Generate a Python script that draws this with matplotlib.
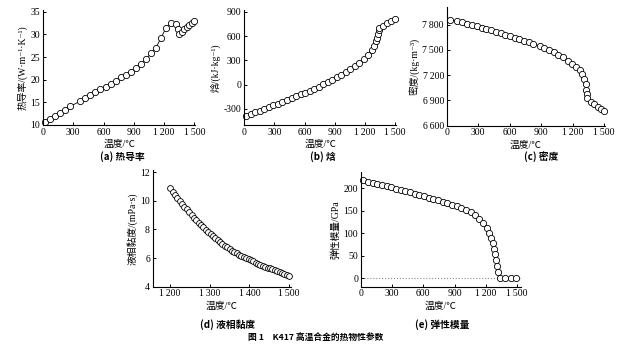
import matplotlib
matplotlib.use("Agg")
import matplotlib.pyplot as plt

FONT = ['Liberation Serif', 'Noto Sans CJK SC', 'DejaVu Serif']
CAPF = ['Noto Sans CJK SC', 'Liberation Serif', 'DejaVu Serif']
plt.rcParams['font.family'] = FONT
plt.rcParams['axes.unicode_minus'] = False

W, H = 622, 349

# ---- data ----
# (a) thermal conductivity
T_a = [20, 70, 120, 170, 220, 270, 370, 420, 470, 520, 570, 620, 670, 720, 770, 820,
       870, 920, 970, 1020, 1070, 1120, 1170, 1220, 1270, 1320, 1340, 1350, 1375,
       1400, 1425, 1450, 1475, 1500]
k_a = [10.7, 11.3, 12.0, 12.7, 13.4, 14.1, 15.3, 15.9, 16.6, 17.3, 17.9, 18.5, 19.1,
       19.8, 20.5, 21.1, 21.8, 22.6, 23.5, 24.6, 25.8, 27.1, 29.2, 31.5, 32.6, 32.4,
       31.3, 30.1, 30.6, 31.1, 31.6, 32.0, 32.5, 32.9]

# (b) enthalpy
T_b = [20, 65, 110, 155, 200, 245, 290, 335, 380, 425, 470, 515, 560, 605, 650, 695,
       740, 785, 830, 875, 920, 965, 1010, 1055, 1100, 1145, 1190, 1235, 1270, 1295,
       1315, 1325, 1332, 1337, 1340, 1380, 1420, 1460, 1500]
h_b = [-390, -365, -342, -321, -300, -277, -256, -235, -214, -191, -168, -145, -122,
       -98, -74, -50, -24, 2, 28, 57, 88, 120, 154, 190, 228, 270, 318, 372, 425, 475,
       535, 580, 630, 680, 700, 730, 760, 787, 813]

# (c) density
T_c = [32, 102, 146, 191, 238, 286, 334, 378, 426, 470, 515, 559, 604, 648, 693, 737,
       782, 823, 887, 931, 976, 1020, 1065, 1109, 1154, 1198, 1236, 1268, 1293, 1312,
       1325, 1331, 1338, 1341, 1373, 1408, 1443, 1472, 1500]
rho_c = [7860, 7844, 7828, 7812, 7796, 7780, 7764, 7748, 7732, 7717, 7697, 7681, 7661,
         7645, 7625, 7609, 7589, 7573, 7546, 7526, 7502, 7474, 7442, 7411, 7371, 7331,
         7295, 7260, 7212, 7156, 7093, 7025, 6973, 6925, 6886, 6858, 6826, 6799, 6775]

# (d) liquid viscosity
T_d = [1200, 1206, 1212, 1218, 1224, 1230, 1236, 1242, 1248, 1254, 1260, 1266, 1272,
       1278, 1284, 1290, 1296, 1302, 1308, 1314, 1320, 1326, 1332, 1338, 1344, 1350,
       1356, 1362, 1368, 1374, 1380, 1386, 1392, 1398, 1404, 1410, 1416, 1422, 1428,
       1434, 1440, 1446, 1452, 1458, 1464, 1470, 1476, 1482, 1488, 1494, 1500]
mu_d = [10.86, 10.64, 10.42, 10.21, 10.00, 9.80, 9.60, 9.40, 9.19, 9.01, 8.83, 8.65,
        8.48, 8.31, 8.14, 7.98, 7.82, 7.67, 7.52, 7.38, 7.24, 7.11, 6.98, 6.86, 6.74,
        6.62, 6.52, 6.42, 6.33, 6.24, 6.15, 6.07, 5.99, 5.90, 5.83, 5.76, 5.69, 5.62,
        5.55, 5.48, 5.41, 5.34, 5.28, 5.21, 5.15, 5.09, 5.03, 4.97, 4.91, 4.85, 4.76]

# (e) elastic modulus
T_e = [19, 67, 112, 157, 202, 247, 292, 337, 382, 427, 472, 517, 562, 607, 652, 697,
       742, 787, 832, 877, 922, 967, 1012, 1057, 1102, 1134, 1176, 1208, 1233, 1253,
       1269, 1282, 1291, 1301, 1311, 1320, 1336, 1385, 1440, 1495]
E_e = [217.8, 214.8, 212.6, 209.6, 207.4, 204.4, 202.2, 199.3, 196.3, 194.1, 191.1,
       188.1, 185.2, 182.2, 179.2, 176.3, 173.3, 170.4, 167.4, 163.7, 160.0, 156.3,
       151.8, 146.6, 140.7, 132.0, 123.0, 111.8, 100.7, 89.6, 78.5, 65.1, 54.0, 41.4,
       26.7, 13.3, 0, 0, 0, 0]

xt_full = [0, 300, 600, 900, 1200, 1500]
xt_full_lab = ['0', '300', '600', '900', '1\u2009200', '1\u2009500']
xt_d = [1200, 1300, 1400, 1500]
xt_d_lab = ['1\u2009200', '1\u2009300', '1\u2009400', '1\u2009500']


def px_axes(fig, left, right, top, bottom):
    return fig.add_axes([left / W, 1 - bottom / H, (right - left) / W, (bottom - top) / H])


def style(ax):
    for s in ['top', 'right']:
        ax.spines[s].set_visible(False)
    for s in ['left', 'bottom']:
        ax.spines[s].set_linewidth(0.8)
    ax.tick_params(direction='in', length=2.5, width=0.7, labelsize=7, pad=2)
    ax.set_xlabel('温度/℃', fontsize=7, labelpad=2)


def draw(ax, x, y, ms=4.5):
    ax.plot(x, y, color='black', lw=0.6, marker='o', ms=ms, mfc='white',
            mec='black', mew=0.6, clip_on=False)


fig = plt.figure(figsize=(W / 100, H / 100), dpi=100)

# (a)
ax = px_axes(fig, 43, 195.3, 10, 125)
draw(ax, T_a, k_a)
ax.set_xlim(0, 1510)
ax.set_ylim(10, 35.4)
ax.set_xticks(xt_full, xt_full_lab)
ax.set_yticks([10, 15, 20, 25, 30, 35])
style(ax)
ax.set_ylabel('热导率/(W·m⁻¹·K⁻¹)', fontsize=7, labelpad=2)

# (b)
ax = px_axes(fig, 244.3, 396, 9.8, 125)
draw(ax, T_b, h_b)
ax.set_xlim(0, 1510)
ax.set_ylim(-500, 925)
ax.set_xticks(xt_full, xt_full_lab)
ax.set_yticks([-300, 0, 300, 600, 900])
style(ax)
ax.set_ylabel('焓/(kJ·kg⁻¹)', fontsize=7, labelpad=2)

# (c)
ax = px_axes(fig, 446.7, 605, 7, 125.7)
draw(ax, T_c, rho_c)
ax.set_xlim(0, 1510)
ax.set_ylim(6600, 8010)
ax.set_xticks(xt_full, xt_full_lab)
ax.set_yticks([6600, 6900, 7200, 7500, 7800],
              ['6\u2009600', '6\u2009900', '7\u2009200', '7\u2009500', '7\u2009800'])
style(ax)
ax.set_ylabel('密度/(kg·m⁻³)', fontsize=7, labelpad=2)

# (d)
ax = px_axes(fig, 152.7, 291, 170, 286.7)
draw(ax, T_d, mu_d, ms=4.2)
ax.set_xlim(1156, 1505)
ax.set_ylim(4, 12.15)
ax.set_xticks(xt_d, xt_d_lab)
ax.set_yticks([4, 6, 8, 10, 12])
style(ax)
ax.set_ylabel('液相黏度/(mPa·s)', fontsize=7, labelpad=2)

# (e)
ax = px_axes(fig, 361, 521, 171.7, 286.7)
ax.axhline(0, color='#888888', lw=0.8, ls=':', zorder=1)
draw(ax, T_e, E_e)
ax.set_xlim(0, 1540)
ax.set_ylim(-19, 237)
ax.set_xticks(xt_full, xt_full_lab)
ax.set_yticks([0, 50, 100, 150, 200])
style(ax)
ax.set_ylabel('弹性模量/GPa', fontsize=7, labelpad=2)

# captions
caps = [('(a) 热导率', 122, 157), ('(b) 焓', 323, 157), ('(c) 密度', 541, 157),
        ('(d) 液相黏度', 228, 325), ('(e) 弹性模量', 442, 325)]
for txt, cx, cy in caps:
    fig.text(cx / W, 1 - cy / H, txt, ha='center', va='center', fontsize=7,
             fontweight='bold', family=CAPF)
fig.text(316 / W, 1 - 338 / H, '图 1　K417 高温合金的热物性参数', ha='center',
         va='center', fontsize=6.3, fontweight='bold', family=CAPF)

fig.savefig('out.png', dpi=100)
